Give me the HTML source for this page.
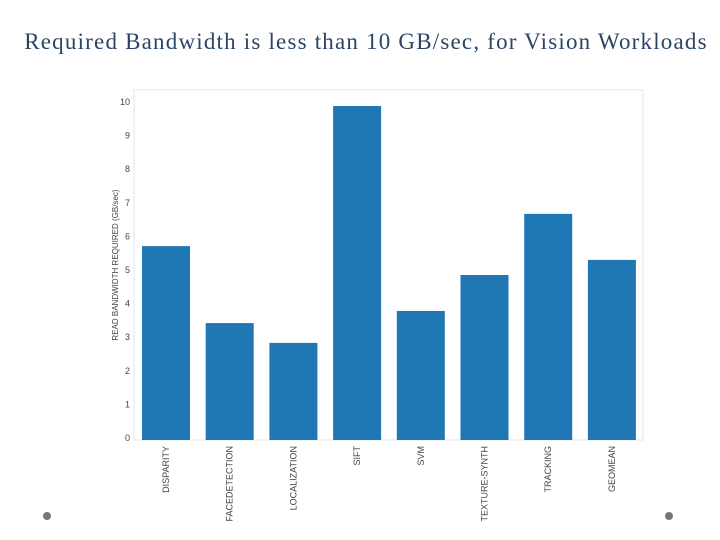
<!DOCTYPE html>
<html><head><style>
body{margin:0;width:720px;height:540px;background:#fff;overflow:hidden;position:relative}
#title{position:absolute;left:0;top:29px;width:732px;text-align:center;font-family:"Liberation Serif",serif;font-size:23px;letter-spacing:1.2px;color:#2b4566;white-space:nowrap}
.dot{position:absolute;width:8px;height:8px;border-radius:50%;background:#777;top:512px}
</style></head><body>
<div id="title">Required Bandwidth is less than 10 GB/sec, for Vision Workloads</div>
<div class="dot" style="left:43px"></div>
<div class="dot" style="left:665px"></div>
<svg id="chart" width="720" height="540" style="position:absolute;left:0;top:0"></svg>
<script>
const categories=["DISPARITY","FACEDETECTION","LOCALIZATION","SIFT","SVM","TEXTURE-SYNTH","TRACKING","GEOMEAN"];
const values=[5.77,3.48,2.89,9.94,3.84,4.91,6.73,5.36];
const yTicks=[0,1,2,3,4,5,6,7,8,9,10];
const NS="http://www.w3.org/2000/svg";
const svg=document.getElementById('chart');
const L=134,R=643,T=90,B=440;
const y=v=>B-v*33.6;
const step=63.7;
const x=i=>L+8+i*step;
const bw=48;
function mk(t,a){const e=document.createElementNS(NS,t);for(const k in a)e.setAttribute(k,a[k]);svg.appendChild(e);return e;}
const frame=mk('rect',{x:L,y:T,width:R-L,height:B-T,fill:'none',stroke:'#e4e4e4','stroke-width':1});


yTicks.forEach(t=>{
  const tx=mk('text',{x:130,y:y(t)+1,'text-anchor':'end','font-family':'Liberation Sans, sans-serif','font-size':9,fill:'#444'});
  tx.textContent=t;
  
  
});
categories.forEach((c,i)=>{
  const r=mk('rect',{x:x(i),y:y(values[i]),width:bw,height:B-y(values[i]),fill:'#1f77b4'});
  
  
  const cx=x(i)+bw/2+3;
  const tx=mk('text',{x:0,y:0,transform:`translate(${cx},446) rotate(-90)`,'text-anchor':'end','font-family':'Liberation Sans, sans-serif','font-size':9,fill:'#444'});
  tx.textContent=c;
  
  
});
const yt=mk('text',{x:0,y:0,transform:'translate(118,265) rotate(-90)','text-anchor':'middle','font-family':'Liberation Sans, sans-serif','font-size':8,fill:'#444'});
yt.textContent='READ BANDWIDTH REQUIRED (GB/sec)';


</script>
</body></html>
